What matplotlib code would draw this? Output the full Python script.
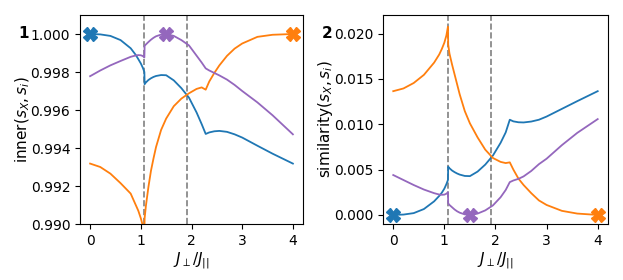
import numpy as np
import matplotlib
matplotlib.use("Agg")
import matplotlib.pyplot as plt

# coupling ratio J_perp / J_par (common grid for all curves)
J = [0, 0.2, 0.4, 0.6, 0.8, 0.9, 0.95, 1.0, 1.04, 1.07, 1.075, 1.1, 1.15, 1.2, 1.25, 1.3,
     1.4, 1.5, 1.65, 1.8, 1.95, 2.1, 2.2, 2.28, 2.35, 2.45, 2.55, 2.7, 2.85, 3.0, 3.3, 3.6, 4.0]

# panel 1: inner(s_X, s_i)
inner_blue = [1.00000, 0.99998, 0.99990, 0.99968, 0.99925, 0.99890, 0.99868, 0.99845, 0.99822,
              0.99800, 0.99736, 0.99745, 0.99758, 0.99767, 0.99774, 0.99779, 0.99784, 0.99783,
              0.99756, 0.99715, 0.99665, 0.99587, 0.99526, 0.99474, 0.99482, 0.99488, 0.99490,
              0.99485, 0.99472, 0.99455, 0.99412, 0.99370, 0.99318]
inner_orange = [0.99318, 0.99300, 0.99265, 0.99215, 0.99160, 0.99100, 0.99070, 0.99030, 0.98990,
                0.98960, 0.99030, 0.99095, 0.99195, 0.99280, 0.99345, 0.99405, 0.99495, 0.99555,
                0.99620, 0.99660, 0.99688, 0.99711, 0.99719, 0.99707, 0.99750, 0.99795, 0.99835,
                0.99885, 0.99923, 0.99950, 0.99985, 0.99996, 1.00000]
inner_purple = [0.99778, 0.99808, 0.99835, 0.99858, 0.99880, 0.99887, 0.99889, 0.99888, 0.99884,
                0.99877, 0.99938, 0.99945, 0.99958, 0.99970, 0.99980, 0.99988, 0.99997, 1.00000,
                0.99990, 0.99968, 0.99940, 0.99886, 0.99850, 0.99819, 0.99808, 0.99795, 0.99782,
                0.99760, 0.99732, 0.99700, 0.99640, 0.99572, 0.99472]

# panel 2: similarity(s_X, s_i)
sim_blue = [0.0, 0.00004, 0.00020, 0.00065, 0.00150, 0.00210, 0.00245, 0.00290, 0.00340,
            0.00385, 0.00532, 0.00515, 0.00490, 0.00472, 0.00457, 0.00445, 0.00430, 0.00428,
            0.00478, 0.00555, 0.00655, 0.00795, 0.00910, 0.01050, 0.01032, 0.01022, 0.01020,
            0.01030, 0.01050, 0.01085, 0.01170, 0.01255, 0.01365]
sim_orange = [0.01365, 0.01395, 0.01455, 0.01545, 0.01680, 0.01770, 0.01830, 0.01900, 0.01980,
              0.02075, 0.01880, 0.01780, 0.01660, 0.01550, 0.01440, 0.01330, 0.01145, 0.01010,
              0.00855, 0.00720, 0.00628, 0.00585, 0.00572, 0.00580, 0.00500, 0.00400, 0.00330,
              0.00240, 0.00160, 0.00110, 0.00045, 0.00015, 0.0]
sim_purple = [0.00440, 0.00385, 0.00330, 0.00280, 0.00240, 0.00225, 0.00222, 0.00224, 0.00234,
              0.00250, 0.00128, 0.00110, 0.00085, 0.00060, 0.00040, 0.00025, 0.00006, 0.0,
              0.00015, 0.00050, 0.00105, 0.00195, 0.00275, 0.00362, 0.00380, 0.00398, 0.00425,
              0.00485, 0.00560, 0.00620, 0.00770, 0.00905, 0.01057]

# optimum of each curve (marker positions)
opt_x = [0.0, 4.0, 1.5]
inner_opt = [1.0, 1.0, 1.0]
sim_opt = [0.0, 0.0, 0.0]

colors = ["tab:blue", "tab:orange", "tab:purple"]
vlines = [1.07, 1.92]

fig = plt.figure(figsize=(6.23, 2.8), dpi=100)
ax1 = fig.add_axes([0.1284, 0.2, 0.358, 0.7464])
ax2 = fig.add_axes([0.6148, 0.2, 0.361, 0.7464])

panels = [
    (ax1, [inner_blue, inner_orange, inner_purple], inner_opt, r"inner$(s_X, s_i)$"),
    (ax2, [sim_blue, sim_orange, sim_purple], sim_opt, r"similarity$(s_X, s_i)$"),
]

for ax, curves, opt, ylab in panels:
    for v in vlines:
        ax.axvline(v, color="grey", ls="--", lw=1.2, zorder=1)
    for y, c in zip(curves, colors):
        ax.plot(J, y, color=c, lw=1.3, zorder=2)
    for xo, yo, c in zip(opt_x, opt, colors):
        ax.plot(xo, yo, marker="X", ms=10, color=c, ls="none", clip_on=False, zorder=3)
    ax.set_xlim(-0.2, 4.2)
    ax.set_xticks([0, 1, 2, 3, 4])
    ax.set_xlabel(r"$J_\perp/J_{||}$", fontsize=11, labelpad=2)
    ax.set_ylabel(ylab, fontsize=11, labelpad=-1)
    ax.tick_params(labelsize=10)

ax1.set_ylim(0.990, 1.001)
ax1.set_yticks([0.990, 0.992, 0.994, 0.996, 0.998, 1.000])
ax1.set_yticklabels(["0.990", "0.992", "0.994", "0.996", "0.998", "1.000"])
ax2.set_ylim(-0.001, 0.02205)
ax2.set_yticks([0.0, 0.005, 0.010, 0.015, 0.020])
ax2.set_yticklabels(["0.000", "0.005", "0.010", "0.015", "0.020"])

fig.text(24 / 623, 1 - 33 / 280, "1", fontweight="bold", fontsize=11, ha="center", va="center")
fig.text(327 / 623, 1 - 33 / 280, "2", fontweight="bold", fontsize=11, ha="center", va="center")

fig.savefig("out.png", dpi=100)
